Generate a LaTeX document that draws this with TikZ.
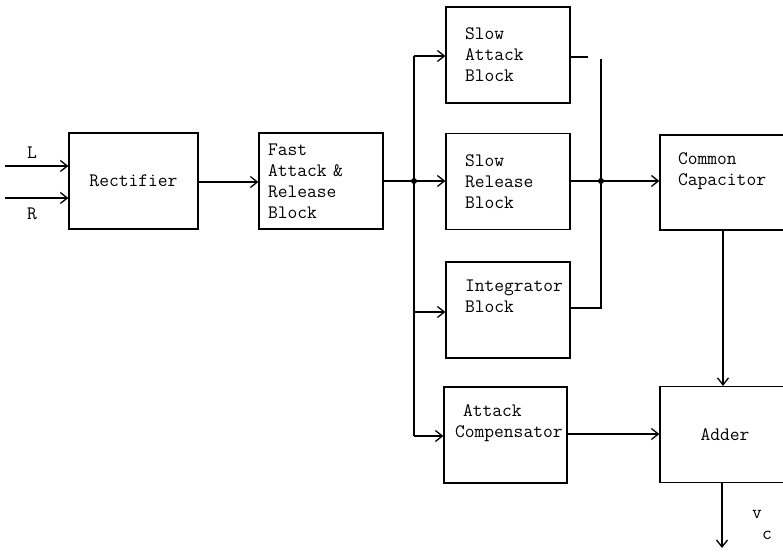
\documentclass[tikz,border=0pt]{standalone}
\usetikzlibrary{arrows.meta}

\begin{document}
\begin{tikzpicture}[
  x=1pt, y=-1pt,
  >={Straight Barb[length=7pt,width=11pt,line width=1.3pt]},
  blk/.style={
    draw, line width=1.2pt, rectangle,
    minimum width=124pt, minimum height=96pt,
    font=\fontsize{19}{21}\selectfont\ttfamily, align=left,
    inner xsep=19pt, text width=86pt, inner ysep=0pt
  },
  cblk/.style={
    draw, line width=1.2pt, rectangle,
    minimum width=130pt, minimum height=96pt,
    font=\fontsize{19}{21}\selectfont\ttfamily, align=center, inner sep=0pt
  },
  wire/.style={line width=1.5pt},
  lbl/.style={font=\fontsize{19}{21}\selectfont\ttfamily, inner sep=0pt, align=left},
  dot/.style={circle, fill, inner sep=0pt, minimum size=6pt},
]

\useasboundingbox (0,0) rectangle (783,551);

% blocks
\node[cblk, minimum width=129pt] (rect) at (133.5,181) {Rectifier};
\node[blk, inner xsep=9pt, text width=106pt] (fab) at (321,181) {Fast\\Attack \&\\Release\\Block};
\node[blk] (sa) at (508,55) {Slow\\Attack\\Block};
\node[blk] (sr) at (508,181.5) {Slow\\Release\\Block};
\node[blk] (ig) at (508,310) {Integrator\\Block\\\strut};
\node[blk, minimum width=123pt, inner xsep=11pt, text width=101pt] (ac) at (505.5,435)
  {\hspace*{8pt}Attack\\Compensator\\\strut};
\node[blk, minimum width=130pt, minimum height=95pt, inner xsep=18pt, text width=94pt] (cc) at (725,182.5)
  {Common\\Capacitor\\\strut};
\node[cblk] (add) at (725,434.5) {Adder};

% inputs
\coordinate (lin) at (5,166);
\coordinate (rin) at (5,198);
\node[lbl] (l) at (32,153) {L};
\node[lbl] (r) at (32,214) {R};
\draw[wire,->] (lin) -- (lin -| rect.west);
\draw[wire,->] (rin) -- (rin -| rect.west);

\draw[wire,->] (rect.east |- 0,182) -- (fab.west |- 0,182);

% fan out
\coordinate (split) at (414,181);
\coordinate (bustop) at (414,56);
\coordinate (busbot) at (414,436);
\draw[wire] (fab.east |- split) -- (split);
\draw[wire,->] (split) -- (sr.west |- split);
\draw[wire,->] (bustop) -- (sa.west |- bustop);
\draw[wire] (bustop) -- (busbot);
\draw[wire,->] (414,312) -- (ig.west |- 0,312);
\draw[wire,->] (busbot) -- (ac.west |- busbot);
\node[dot] (d1) at (split) {};

% combine
\coordinate (stub) at (588,57);
\coordinate (jtop) at (601,59);
\coordinate (join) at (601,181);
\coordinate (jbot) at (601,308);
\draw[wire] (sa.east |- stub) -- (stub);
\draw[wire] (jtop) -- (jbot) -- (ig.east |- jbot);
\draw[wire] (sr.east |- join) -- (join);
\draw[wire,->] (join) -- (cc.west |- join);
\node[dot] (d2) at (join) {};

% output
\draw[wire,->] (cc.south -| 723,0) -- (add.north -| 723,0);
\draw[wire,->] (ac.east |- 0,434) -- (add.west |- 0,434);
\coordinate (vout) at (722,548);
\draw[wire,->] (add.south -| vout) -- (vout);
\node[lbl, anchor=north west] (vc) at (752,510) {v\\\hspace*{10pt}c};

\end{tikzpicture}
\end{document}
